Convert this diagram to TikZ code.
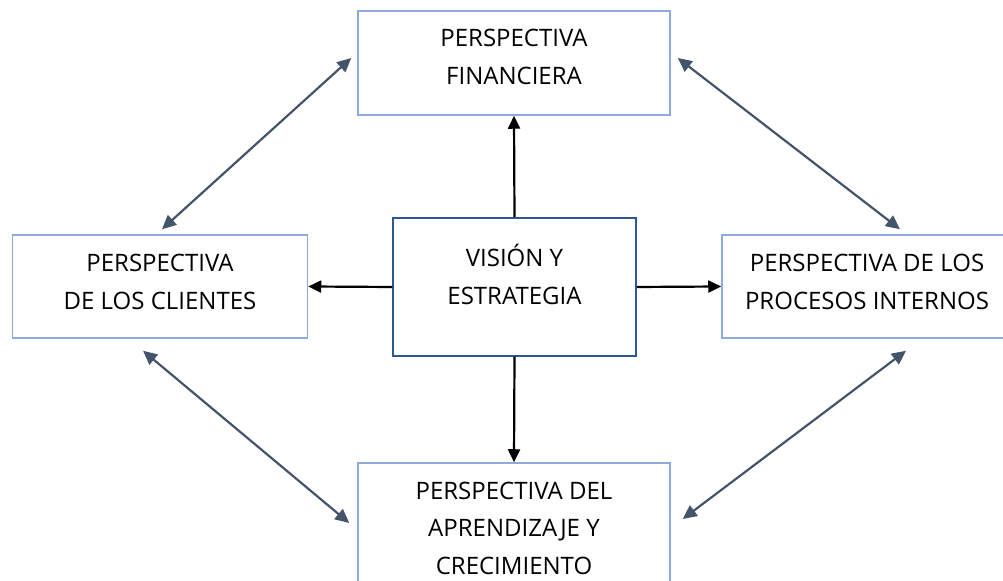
\documentclass[tikz,border=0pt]{standalone}
\usepackage{fontspec}
\setmainfont{Open Sans}
\usetikzlibrary{arrows.meta,calc}
\definecolor{boxline}{HTML}{8FAADC}
\definecolor{corebox}{HTML}{2F5597}
\definecolor{linkcolor}{HTML}{44546A}

\begin{document}
\begin{tikzpicture}[
  x=0.5pt, y=-0.5pt,
  every node/.style={font=\fontsize{12}{18.75}\selectfont, align=center, inner sep=0pt},
  persp/.style={draw=boxline, line width=0.75pt, rectangle},
  core/.style={draw=corebox, line width=0.75pt, rectangle},
  push/.style={line width=1.1pt, -{Triangle[length=6.5pt,width=6pt]}},
  link/.style={draw=linkcolor, line width=1.1pt,
    {Triangle[length=7pt,width=6.5pt]}-{Triangle[length=7pt,width=6.5pt]}}
]
  \useasboundingbox (0,0) rectangle (1003,581);
  \clip (0,0) rectangle (1003,581);

  % boxes
  \node[persp, minimum width=156pt, minimum height=52pt] (fin) at (514,63) {};
  \node[persp, minimum width=147.5pt, minimum height=51.5pt] (cli) at (160,286.5) {};
  \node[persp, minimum width=145pt, minimum height=51.5pt] (pro) at (867,286.5) {};
  \node[core, minimum width=121.5pt, minimum height=69pt] (vis) at (514.5,287) {};
  \node[persp, minimum width=156pt, minimum height=70pt] (apr) at (514,533) {};

  % texts
  \node (fintxt) at ($(fin.center)+(0,-6)$) {PERSPECTIVA\\FINANCIERA};
  \node (clitxt) at ($(cli.center)+(0,-4.5)$) {PERSPECTIVA\\DE LOS CLIENTES};
  \node (protxt) at ($(pro.center)+(0,-4.5)$) {PERSPECTIVA DE LOS\\PROCESOS INTERNOS};
  \node (vistxt) at ($(vis.center)+(0,-12.5)$) {VISIÓN Y\\ESTRATEGIA};
  \node (aprtxt) at ($(apr.center)+(0,-5)$) {PERSPECTIVA DEL\\APRENDIZAJE Y\\CRECIMIENTO};

  % from the centre outwards
  \draw[push] (vis.north) -- (fin.south);
  \draw[push] (vis.west) -- (cli.east);
  \draw[push] (vis.east) -- (pro.west);
  \draw[push] (vis.south) -- (apr.north);

  % between perspectives
  \draw[link] ($(fin.west)+(-6,-5)$) -- ($(cli.north)+(2,-5)$);
  \draw[link] ($(fin.east)+(7,-5)$) -- ($(pro.north)+(33,-5)$);
  \draw[link] ($(cli.south)+(-17,12)$) -- ($(apr.west)+(-8,-10)$);
  \draw[link] ($(pro.south)+(39,12)$) -- ($(apr.east)+(12,-14)$);
\end{tikzpicture}
\end{document}
